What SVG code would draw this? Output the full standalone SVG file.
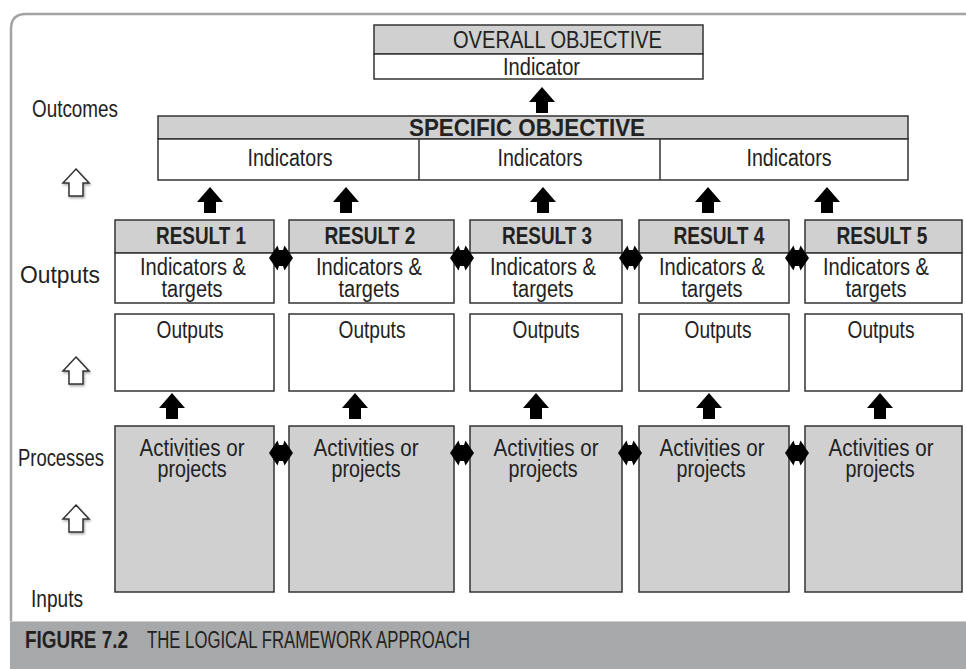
<svg xmlns="http://www.w3.org/2000/svg" width="966" height="669" viewBox="0 0 966 669">
  <style>
    .t { font-family: "Liberation Sans", Arial, sans-serif; font-size: 23.5px; fill: #222; }
    .b { font-weight: bold; }
    .c { text-anchor: middle; }
    .box { fill: #fff; stroke: #333; stroke-width: 1.5; }
    .grey { fill: #d0d0d0; stroke: #333; stroke-width: 1.5; }
    .ln { stroke: #333; stroke-width: 1.5; fill: none; }
    .solid { fill: #000; }
    .hollow { fill: #fff; stroke: #333; stroke-width: 1.5; stroke-linejoin: miter; }
  </style>
  <defs>
    <!-- solid up arrow, tip at origin -->
    <path id="up" d="M0,0 L13,15 L6,15 L6,26 L-6,26 L-6,15 L-13,15 Z"/>
    <!-- two-way horizontal arrow, centred at origin -->
    <path id="dbl" d="M-12,0 L-3.5,-12.5 L-2,-8 L2,-8 L3.5,-12.5 L12,0 L3.5,12.5 L2,8 L-2,8 L-3.5,12.5 Z"/>
    <!-- outlined up arrow, tip at origin -->
    <path id="hup" d="M0,0 L13,14 L7,14 L7,27 L-7,27 L-7,14 L-13,14 Z"/>
    <filter id="soft" x="-30%" y="-30%" width="160%" height="160%">
      <feDropShadow dx="1" dy="1.5" stdDeviation="1" flood-color="#000" flood-opacity="0.35"/>
    </filter>
  </defs>

  <!-- page frame and caption band -->
  <rect x="0" y="0" width="966" height="669" fill="#fff"/>
  <path d="M966,14 H26 Q11,14 11,29 V622" fill="none" stroke="#a3a3a3" stroke-width="2.5"/>
  <rect x="10" y="621" width="956" height="48" fill="#a7a8aa"/>
  <line x1="10" y1="621.5" x2="966" y2="621.5" stroke="#cfcfcf" stroke-width="1"/>
  <g id="caption">
    <text class="t b" x="25" y="648" font-size="21" textLength="103" lengthAdjust="spacingAndGlyphs">FIGURE 7.2</text>
    <text class="t" x="147" y="648" font-size="21" textLength="323" lengthAdjust="spacingAndGlyphs">THE LOGICAL FRAMEWORK APPROACH</text>
  </g>

  <!-- level labels on the left -->
  <g id="levels">
    <text class="t" x="32" y="117" textLength="86" lengthAdjust="spacingAndGlyphs">Outcomes</text>
    <text class="t" x="20" y="283" textLength="80" lengthAdjust="spacingAndGlyphs">Outputs</text>
    <text class="t" x="18" y="466" textLength="86" lengthAdjust="spacingAndGlyphs">Processes</text>
    <text class="t" x="31" y="607" textLength="52" lengthAdjust="spacingAndGlyphs">Inputs</text>
    <use href="#hup" class="hollow" filter="url(#soft)" x="76" y="169"/>
    <use href="#hup" class="hollow" filter="url(#soft)" x="76" y="357"/>
    <use href="#hup" class="hollow" filter="url(#soft)" x="76" y="505"/>
  </g>

  <!-- overall objective -->
  <g id="overall">
    <rect class="grey" x="374" y="25" width="329" height="29"/>
    <rect class="box" x="374" y="54" width="329" height="25"/>
    <text class="t" x="453" y="48" font-size="24" textLength="209" lengthAdjust="spacingAndGlyphs">OVERALL OBJECTIVE</text>
    <text class="t" x="503" y="75" textLength="77" lengthAdjust="spacingAndGlyphs">Indicator</text>
  </g>

  <!-- specific objective -->
  <g id="specific">
    <rect class="grey" x="158" y="116" width="750" height="23"/>
    <rect class="box" x="158" y="139" width="750" height="41"/>
    <line class="ln" x1="419" y1="139" x2="419" y2="180"/>
    <line class="ln" x1="660" y1="139" x2="660" y2="180"/>
    <text class="t b" x="409" y="136" font-size="24" textLength="236" lengthAdjust="spacingAndGlyphs">SPECIFIC OBJECTIVE</text>
    <text class="t c" x="290" y="166" textLength="85" lengthAdjust="spacingAndGlyphs">Indicators</text>
    <text class="t c" x="540" y="166" textLength="85" lengthAdjust="spacingAndGlyphs">Indicators</text>
    <text class="t c" x="789" y="166" textLength="85" lengthAdjust="spacingAndGlyphs">Indicators</text>
  </g>

  <!-- result columns -->
  <g id="result1">
    <rect class="grey" x="115" y="220" width="159" height="33"/>
    <rect class="box" x="115" y="253" width="159" height="50"/>
    <rect class="box" x="115" y="314" width="159" height="77"/>
    <rect class="grey" x="115" y="426" width="159" height="166"/>
    <text class="t b c" x="201" y="244" textLength="90" lengthAdjust="spacingAndGlyphs">RESULT 1</text>
    <text class="t c" x="193" y="275" textLength="106" lengthAdjust="spacingAndGlyphs">Indicators &amp;</text>
    <text class="t c" x="192" y="297" textLength="61" lengthAdjust="spacingAndGlyphs">targets</text>
    <text class="t c" x="190" y="338" textLength="67" lengthAdjust="spacingAndGlyphs">Outputs</text>
    <text class="t c" x="192" y="456" textLength="105" lengthAdjust="spacingAndGlyphs">Activities or</text>
    <text class="t c" x="192" y="477" textLength="69" lengthAdjust="spacingAndGlyphs">projects</text>
  </g>
  <g id="result2">
    <rect class="grey" x="289" y="220" width="165" height="33"/>
    <rect class="box" x="289" y="253" width="165" height="50"/>
    <rect class="box" x="289" y="314" width="165" height="77"/>
    <rect class="grey" x="289" y="426" width="165" height="166"/>
    <text class="t b c" x="370" y="244" textLength="91" lengthAdjust="spacingAndGlyphs">RESULT 2</text>
    <text class="t c" x="369" y="275" textLength="106" lengthAdjust="spacingAndGlyphs">Indicators &amp;</text>
    <text class="t c" x="369" y="297" textLength="61" lengthAdjust="spacingAndGlyphs">targets</text>
    <text class="t c" x="372" y="338" textLength="67" lengthAdjust="spacingAndGlyphs">Outputs</text>
    <text class="t c" x="366" y="456" textLength="105" lengthAdjust="spacingAndGlyphs">Activities or</text>
    <text class="t c" x="366" y="477" textLength="69" lengthAdjust="spacingAndGlyphs">projects</text>
  </g>
  <g id="result3">
    <rect class="grey" x="470" y="220" width="152" height="33"/>
    <rect class="box" x="470" y="253" width="152" height="50"/>
    <rect class="box" x="470" y="314" width="152" height="77"/>
    <rect class="grey" x="470" y="426" width="152" height="166"/>
    <text class="t b c" x="547" y="244" textLength="90" lengthAdjust="spacingAndGlyphs">RESULT 3</text>
    <text class="t c" x="543" y="275" textLength="106" lengthAdjust="spacingAndGlyphs">Indicators &amp;</text>
    <text class="t c" x="543" y="297" textLength="61" lengthAdjust="spacingAndGlyphs">targets</text>
    <text class="t c" x="546" y="338" textLength="67" lengthAdjust="spacingAndGlyphs">Outputs</text>
    <text class="t c" x="546" y="456" textLength="105" lengthAdjust="spacingAndGlyphs">Activities or</text>
    <text class="t c" x="543" y="477" textLength="69" lengthAdjust="spacingAndGlyphs">projects</text>
  </g>
  <g id="result4">
    <rect class="grey" x="639" y="220" width="150" height="33"/>
    <rect class="box" x="639" y="253" width="150" height="50"/>
    <rect class="box" x="639" y="314" width="150" height="77"/>
    <rect class="grey" x="639" y="426" width="150" height="166"/>
    <text class="t b c" x="719" y="244" textLength="91" lengthAdjust="spacingAndGlyphs">RESULT 4</text>
    <text class="t c" x="712" y="275" textLength="106" lengthAdjust="spacingAndGlyphs">Indicators &amp;</text>
    <text class="t c" x="712" y="297" textLength="61" lengthAdjust="spacingAndGlyphs">targets</text>
    <text class="t c" x="718" y="338" textLength="67" lengthAdjust="spacingAndGlyphs">Outputs</text>
    <text class="t c" x="712" y="456" textLength="105" lengthAdjust="spacingAndGlyphs">Activities or</text>
    <text class="t c" x="711" y="477" textLength="69" lengthAdjust="spacingAndGlyphs">projects</text>
  </g>
  <g id="result5">
    <rect class="grey" x="805" y="220" width="157" height="33"/>
    <rect class="box" x="805" y="253" width="157" height="50"/>
    <rect class="box" x="805" y="314" width="157" height="77"/>
    <rect class="grey" x="805" y="426" width="157" height="166"/>
    <text class="t b c" x="882" y="244" textLength="91" lengthAdjust="spacingAndGlyphs">RESULT 5</text>
    <text class="t c" x="876" y="275" textLength="106" lengthAdjust="spacingAndGlyphs">Indicators &amp;</text>
    <text class="t c" x="876" y="297" textLength="61" lengthAdjust="spacingAndGlyphs">targets</text>
    <text class="t c" x="881" y="338" textLength="67" lengthAdjust="spacingAndGlyphs">Outputs</text>
    <text class="t c" x="881" y="456" textLength="105" lengthAdjust="spacingAndGlyphs">Activities or</text>
    <text class="t c" x="880" y="477" textLength="69" lengthAdjust="spacingAndGlyphs">projects</text>
  </g>

  <!-- connectors -->
  <g id="connectors" class="solid">
    <use href="#up" x="542" y="87"/>
    <use href="#up" x="210" y="187"/>
    <use href="#up" x="346" y="187"/>
    <use href="#up" x="543" y="187"/>
    <use href="#up" x="708" y="187"/>
    <use href="#up" x="827" y="187"/>
    <use href="#up" x="172" y="393"/>
    <use href="#up" x="355" y="393"/>
    <use href="#up" x="536" y="393"/>
    <use href="#up" x="709" y="393"/>
    <use href="#up" x="880" y="393"/>
    <use href="#dbl" x="281" y="258"/>
    <use href="#dbl" x="462" y="258"/>
    <use href="#dbl" x="631" y="258"/>
    <use href="#dbl" x="797" y="258"/>
    <use href="#dbl" x="281" y="453"/>
    <use href="#dbl" x="462" y="453"/>
    <use href="#dbl" x="630" y="453"/>
    <use href="#dbl" x="797" y="453"/>
  </g>
</svg>
